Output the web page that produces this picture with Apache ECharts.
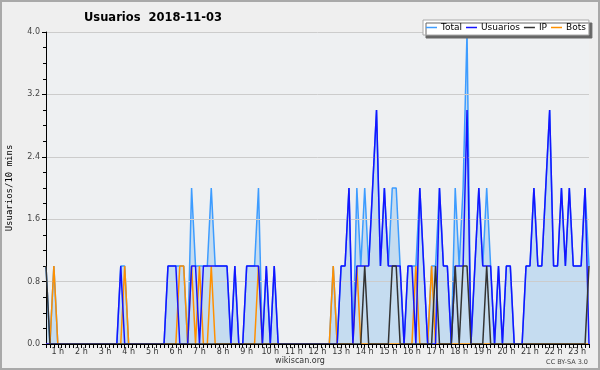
<!DOCTYPE html>
<html>
<head>
<meta charset="utf-8">
<script src="https://cdn.jsdelivr.net/npm/echarts@6/dist/echarts.min.js"></script>
<style>
  html, body { margin: 0; padding: 0; background: #efefef; }
  #usersChart { width: 600px; height: 370px; }
</style>
</head>
<body>
<div id="usersChart"></div>
<script>
// 10-minute buckets, first bucket 00:30, last 23:30
const startMinute = 30;
const stepMinutes = 10;

const totalUsers = [
  1,0,1,0,0,0,0,0,0,0,
  0,0,0,0,0,0,0,0,0,1,
  1,0,0,0,0,0,0,0,0,0,
  0,1,1,1,1,1,0,2,1,1,
  1,1,2,1,1,1,1,0,1,0,
  0,1,1,1,2,0,1,0,1,0,
  0,0,0,0,0,0,0,0,0,0,
  0,0,0,1,0,1,1,2,0,2,
  1,2,1,2,3,1,2,1,2,2,
  1,0,1,1,1,2,1,0,1,1,
  2,1,1,0,2,1,2,4,0,1,
  2,1,2,1,0,1,0,1,1,0,
  0,0,1,1,2,1,1,2,3,1,
  1,2,1,2,1,1,1,2,1
];
const registeredUsers = [
  0,0,0,0,0,0,0,0,0,0,
  0,0,0,0,0,0,0,0,0,1,
  0,0,0,0,0,0,0,0,0,0,
  0,1,1,1,0,0,0,1,1,0,
  1,1,1,1,1,1,1,0,1,0,
  0,1,1,1,1,0,1,0,1,0,
  0,0,0,0,0,0,0,0,0,0,
  0,0,0,0,0,1,1,2,0,1,
  1,1,1,2,3,1,2,1,1,1,
  1,0,1,1,0,2,1,0,0,0,
  2,1,1,0,1,1,1,3,0,1,
  2,1,1,1,0,1,0,1,1,0,
  0,0,1,1,2,1,1,2,3,1,
  1,2,1,2,1,1,1,2,0
];
const ipUsers = [
  1,0,0,0,0,0,0,0,0,0,
  0,0,0,0,0,0,0,0,0,0,
  0,0,0,0,0,0,0,0,0,0,
  0,0,0,0,0,0,0,0,0,0,
  0,0,0,0,0,0,0,0,0,0,
  0,0,0,0,0,0,0,0,0,0,
  0,0,0,0,0,0,0,0,0,0,
  0,0,0,0,0,0,0,0,0,0,
  0,1,0,0,0,0,0,0,1,1,
  0,0,0,0,0,0,0,0,0,1,
  0,0,0,0,1,0,1,1,0,0,
  0,0,1,0,0,0,0,0,0,0,
  0,0,0,0,0,0,0,0,0,0,
  0,0,0,0,0,0,0,0,1
];
const botUsers = [
  0,0,1,0,0,0,0,0,0,0,
  0,0,0,0,0,0,0,0,0,0,
  1,0,0,0,0,0,0,0,0,0,
  0,0,0,0,1,1,0,1,0,1,
  0,0,1,0,0,0,0,0,0,0,
  0,0,0,0,1,0,0,0,0,0,
  0,0,0,0,0,0,0,0,0,0,
  0,0,0,1,0,0,0,0,0,1,
  0,0,0,0,0,0,0,0,0,0,
  0,0,0,0,1,0,0,0,1,0,
  0,0,0,0,0,0,0,0,0,0,
  0,0,0,0,0,0,0,0,0,0,
  0,0,0,0,0,0,0,0,0,0,
  0,0,0,0,0,0,0,0,0
];
const yTicks = [0, 0.8, 1.6, 2.4, 3.2, 4.0];

let times = totalUsers.map((_, i) => {
    let m = startMinute + i * stepMinutes;
    return String(Math.floor(m / 60)).padStart(2, '0') + ':' + String(m % 60).padStart(2, '0');
});

let chartDom = document.getElementById('usersChart');
let chartInstance = echarts.init(chartDom);

const smallFont = 'DejaVu Sans';
const line = (name, data, color, z, extra) => Object.assign({
    name: name,
    type: 'line',
    data: data,
    symbol: 'none',
    z: z,
    animation: false,
    lineStyle: { color: color, width: 1.5 },
    itemStyle: { color: color },
}, extra || {});

var option = {
    backgroundColor: '#efefef',
    animation: false,
    title: {
        text: 'Usuarios  2018-11-03',
        left: 84,
        top: 12,
        padding: 0,
        textStyle: { fontFamily: smallFont, fontSize: 11.5, fontWeight: 'bold', color: '#000' },
    },
    legend: {
        left: 423,
        top: 20,
        padding: [3, 3],
        itemGap: 4,
        itemWidth: 11,
        itemHeight: 1.5,
        icon: 'rect',
        backgroundColor: '#fff',
        borderColor: '#aaa',
        borderWidth: 1,
        borderRadius: 0,
        shadowColor: '#666',
        shadowBlur: 0,
        shadowOffsetX: 3,
        shadowOffsetY: 3,
        textStyle: { fontFamily: smallFont, fontSize: 9, color: '#000', padding: [0, 0, 0, -1] },
        data: ['Total', 'Usuarios', 'IP', 'Bots'],
    },
    grid: {
        left: 46,
        right: 11,
        top: 32,
        bottom: 26,
        outerBoundsMode: 'none',
        containLabel: false,
        show: true,
        backgroundColor: '#eef0f2',
        borderWidth: 0,
        z: 0,
    },
    xAxis: {
        type: 'category',
        data: times,
        boundaryGap: false,
        z: 10,
        axisLine: { lineStyle: { color: '#000', width: 1 } },
        axisTick: { interval: 0, length: 4, lineStyle: { color: '#000' } },
        axisLabel: {
            interval: (i, v) => v.endsWith(':00'),
            formatter: v => parseInt(v, 10) + ' h',
            fontFamily: smallFont,
            fontSize: 8,
            color: '#333',
            margin: 4,
        },
        splitLine: { show: false },
    },
    yAxis: {
        type: 'value',
        min: yTicks[0],
        max: yTicks[yTicks.length - 1],
        interval: 0.8,
        z: 1.5,
        name: 'Usuarios/10 mins',
        nameLocation: 'middle',
        nameRotate: 90,
        nameGap: 32,
        nameTextStyle: { fontFamily: 'DejaVu Sans Mono', fontSize: 9, color: '#000' },
        axisLine: { show: true, lineStyle: { color: '#000', width: 1 } },
        axisTick: { show: true, length: 4, lineStyle: { color: '#000' } },
        minorTick: { show: true, splitNumber: 4, length: 3, lineStyle: { color: '#000' } },
        axisLabel: {
            formatter: v => v.toFixed(1),
            fontFamily: smallFont,
            fontSize: 8,
            color: '#444',
            margin: 6,
        },
        splitLine: { show: true, lineStyle: { color: '#cccccc', width: 1 } },
    },
    series: [
        line('Total', totalUsers, '#3d9cff', 1, { areaStyle: { color: '#c5dcf0', opacity: 1 } }),
        line('Usuarios', registeredUsers, '#1414ff', 4),
        line('IP', ipUsers, '#333333', 5),
        line('Bots', botUsers, '#ff9000', 3),
    ],
    graphic: [
        {
            type: 'rect',
            shape: { x: 1, y: 1, width: 598, height: 368 },
            style: { fill: 'none', stroke: '#a9a9a9', lineWidth: 2 },
            silent: true,
        },
        {
            type: 'text',
            left: 'center',
            top: 357,
            style: { text: 'wikiscan.org', font: '8px "DejaVu Sans"', fill: '#333' },
        },
        {
            type: 'text',
            right: 12,
            top: 359,
            style: { text: 'CC BY-SA 3.0', font: '6.5px "DejaVu Sans"', fill: '#444' },
        },
    ],
};

chartInstance.setOption(option);
</script>
</body>
</html>
